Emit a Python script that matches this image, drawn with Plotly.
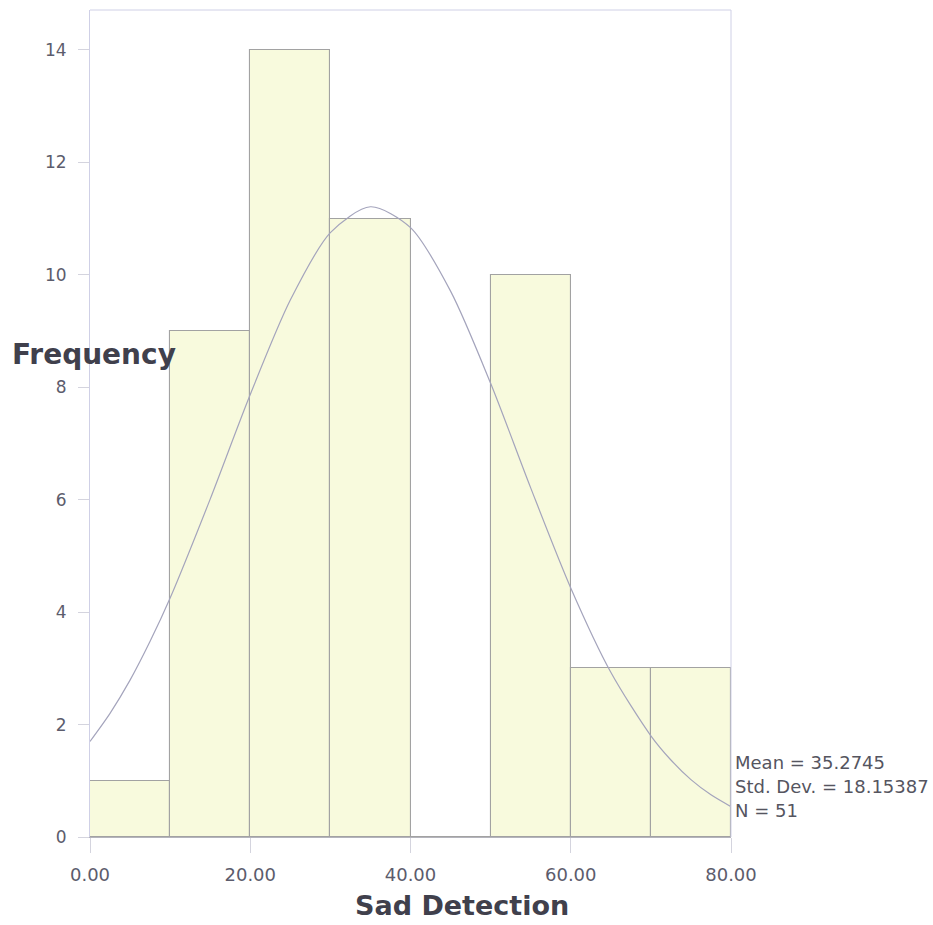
import plotly.graph_objects as go

bin_centers = [5, 15, 25, 35, 45, 55, 65, 75]
frequencies = [1, 9, 14, 11, 0, 10, 3, 3]
curve_x = [0, 2.5, 5, 7.5, 10, 15, 20, 25, 30, 35, 40, 45, 50, 55, 60, 65, 70, 72.5, 75, 77.5, 80]
curve_y = [1.70, 2.20, 2.79, 3.48, 4.25, 6.01, 7.87, 9.55, 10.75, 11.21, 10.84, 9.71, 8.07, 6.21, 4.43, 2.93, 1.80, 1.37, 1.02, 0.75, 0.54]
x_ticks = [0, 20, 40, 60, 80]
x_tick_labels = ["0.00", "20.00", "40.00", "60.00", "80.00"]
y_ticks = [0, 2, 4, 6, 8, 10, 12, 14]
stats = ["Mean = 35.2745", "Std. Dev. = 18.15387", "N = 51"]

W, H = 933, 925
L, R, T, B = 90, 731, 10, 837
pw, ph = R - L, B - T
FONT = "DejaVu Sans, Verdana, sans-serif"

fig = go.Figure()
fig.add_trace(go.Bar(
    x=bin_centers, y=frequencies, width=10,
    marker=dict(color="#f8fadd", line=dict(color="#a2a2a2", width=1.1)),
    hoverinfo="x+y", showlegend=False,
))
fig.add_trace(go.Scatter(
    x=curve_x, y=curve_y, mode="lines",
    line=dict(color="#a4a4bc", width=1.2, shape="spline", smoothing=0.8),
    showlegend=False,
))

fig.update_layout(
    width=W, height=H,
    margin=dict(l=L, r=W - R, t=T, b=H - B, pad=0),
    paper_bgcolor="white", plot_bgcolor="white",
    bargap=0,
    font=dict(family=FONT, color="#5a5a6a"),
    xaxis=dict(
        range=[0, 80], tickvals=x_ticks, ticktext=x_tick_labels,
        ticks="outside", ticklen=15, tickcolor="#d4d4de", ticklabelstandoff=6,
        tickfont=dict(family=FONT, size=18, color="#5c5c6c"),
        showgrid=False, zeroline=False, showline=True, linecolor="#b4b4bc", linewidth=1,
    ),
    yaxis=dict(
        range=[0, 14.71], tickvals=y_ticks,
        ticks="outside", ticklen=11, tickcolor="#d4d4de", ticklabelstandoff=8,
        tickfont=dict(family=FONT, size=17, color="#5c5c6c"),
        showgrid=False, zeroline=False, showline=True, linecolor="#cfd0e6", linewidth=1,
    ),
)

# frame: top and right borders
fig.add_shape(type="line", xref="paper", yref="paper", x0=0, x1=1, y0=1, y1=1,
              line=dict(color="#cfd0e6", width=1))
fig.add_shape(type="line", xref="paper", yref="paper", x0=1, x1=1, y0=0, y1=1,
              line=dict(color="#cfd0e6", width=1))

fig.add_annotation(text="<b>Frequency</b>", xref="paper", yref="paper",
                   x=(10 - L) / pw, y=(B - 354) / ph, xanchor="left", yanchor="middle",
                   showarrow=False, font=dict(family=FONT, size=28, color="#40404c"))
fig.add_annotation(text="<b>Sad Detection</b>", xref="paper", yref="paper",
                   x=(462 - L) / pw, y=(B - 905) / ph, xanchor="center", yanchor="middle",
                   showarrow=False, font=dict(family=FONT, size=27, color="#40404c"))
for i, s in enumerate(stats):
    fig.add_annotation(text=s, xref="paper", yref="paper",
                       x=(733 - L) / pw, y=(B - (762 + 24 * i)) / ph,
                       xanchor="left", yanchor="middle", showarrow=False,
                       font=dict(family=FONT, size=18, color="#55555f"))

fig.write_html("out.html")
